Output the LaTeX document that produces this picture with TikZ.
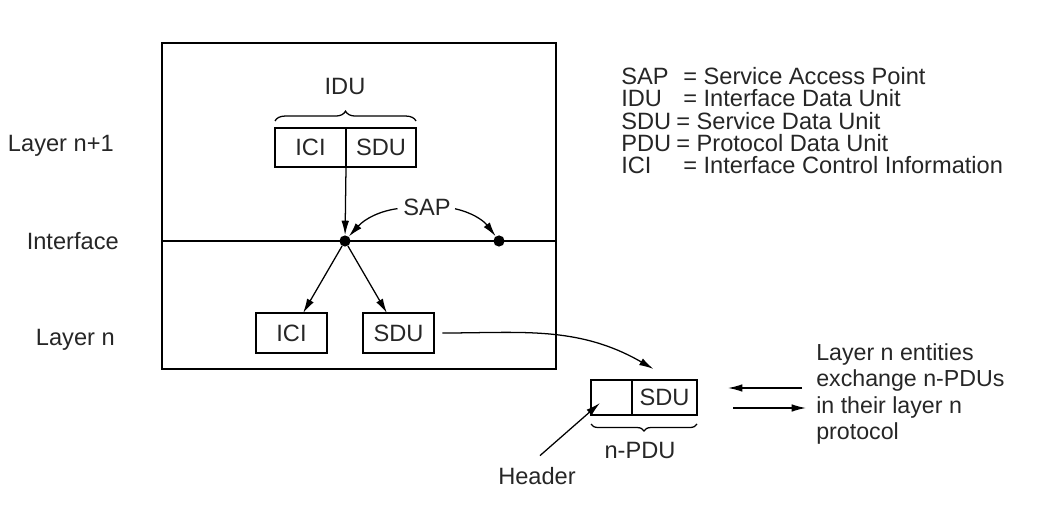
\documentclass[tikz,border=0pt]{standalone}
\usepackage{fontspec}
\setmainfont{Liberation Sans}
\usetikzlibrary{arrows.meta,positioning,decorations.pathreplacing}

\begin{document}
\begin{tikzpicture}[
  x=0.025cm, y=-0.025cm,
  font=\fontsize{16.8}{19}\selectfont,
  lbl/.style={text=black!85, inner sep=0pt},
  cell/.style={draw, line width=0.9pt, minimum height=1cm, inner sep=0pt, outer sep=0pt, text=black!85},
  dot/.style={circle, fill, inner sep=0pt, minimum size=2.8mm},
  arrow/.style={-{Latex[length=3.6mm, width=1.9mm]}, line width=0.9pt},
  brc/.style={decorate, decoration={brace, amplitude=7pt}, line width=0.9pt}
]
\useasboundingbox (0,0) rectangle (1060,518);

% layer box and interface line
\node[draw, line width=1.1pt, minimum width=9.85cm, minimum height=8.15cm, inner sep=0pt] (layer) at (359,206) {};
\coordinate (ifc) at (0,241);
\draw[line width=0.9pt] (layer.west |- ifc) -- (layer.east |- ifc);

\node[lbl, anchor=base east] (ln1) at (114,152) {Layer n+1};
\node[lbl, anchor=base east] (intf) at (119,249) {Interface};
\node[lbl, anchor=base east] (ln) at (115,345) {Layer n};

% IDU in layer n+1
\node[cell, minimum width=1.775cm, minimum height=0.975cm] (ici1) at (310.5,147.5) {ICI};
\node[cell, minimum width=1.75cm, minimum height=0.975cm, right=0pt of ici1] (sdu1) {SDU};
\draw[brc] ([shift={(0,-7)}]ici1.north west) -- ([shift={(0,-7)}]sdu1.north east);
\node[lbl, anchor=base] (idu) at (345,95) {IDU};

% SAPs
\node[dot] (sap1) at (345,241) {};
\node[dot] (sap2) at (499,241) {};
\node[lbl, anchor=base] (sap) at (427,216) {SAP};
\draw[arrow] (ici1.south east) -- (sap1);
\draw[arrow, shorten <=4pt] (sap.west) to[bend right=20] (sap1);
\draw[arrow, shorten <=3pt] (sap.east) to[bend left=20] (sap2);

% layer n
\node[cell, minimum width=1.775cm] (ici2) at (291.5,333) {ICI};
\node[cell, minimum width=1.775cm] (sdu2) at (398.5,333) {SDU};
\draw[arrow] (sap1) -- (ici2);
\draw[arrow] (sap1) -- (sdu2);

% n-PDU
\node[cell, minimum width=1.025cm, minimum height=0.875cm] (hdr) at (611.5,397.5) {};
\node[cell, minimum width=1.625cm, minimum height=0.875cm, right=0pt of hdr] (sdu3) {SDU};
\draw[brc, decoration={mirror, amplitude=5pt}] ([shift={(0,9)}]hdr.south west) -- ([shift={(0,9)}]sdu3.south east);
\node[lbl, anchor=base] (npdu) at (640,458) {n-PDU};
\node[lbl, anchor=base] (header) at (537,484) {Header};
\draw[arrow] ([shift={(3,-11)}]header.north) -- ([shift={(9,-12)}]hdr.south west);
\draw[arrow, shorten <=6pt] (sdu2.east) to[out=0, in=150] ([shift={(-11,-11)}]sdu3.north);

% peer exchange
\node[lbl, anchor=west, align=left, font=\fontsize{16.5}{18.7}\selectfont] (xchg) at (816,394) {Layer n entities\\exchange n-PDUs\\in their layer n\\protocol};
\coordinate (a1s) at (802,388);
\coordinate (a1e) at (728,388);
\coordinate (a2s) at (733,408);
\coordinate (a2e) at (806,408);
\draw[arrow] (a1s) -- (a1e);
\draw[arrow] (a2s) -- (a2e);

% legend
\foreach \ab/\eqx/\txt/\yy in {SAP/683/Service Access Point/85, IDU/683/Interface Data Unit/107, SDU/676/Service Data Unit/130, PDU/676/Protocol Data Unit/152, ICI/683/Interface Control Information/174} {
  \node[lbl, anchor=base west] (ab-\ab) at (621,\yy) {\ab};
  \node[lbl, anchor=base west] (df-\ab) at (\eqx,\yy) {= \txt};
}
\end{tikzpicture}
\end{document}
